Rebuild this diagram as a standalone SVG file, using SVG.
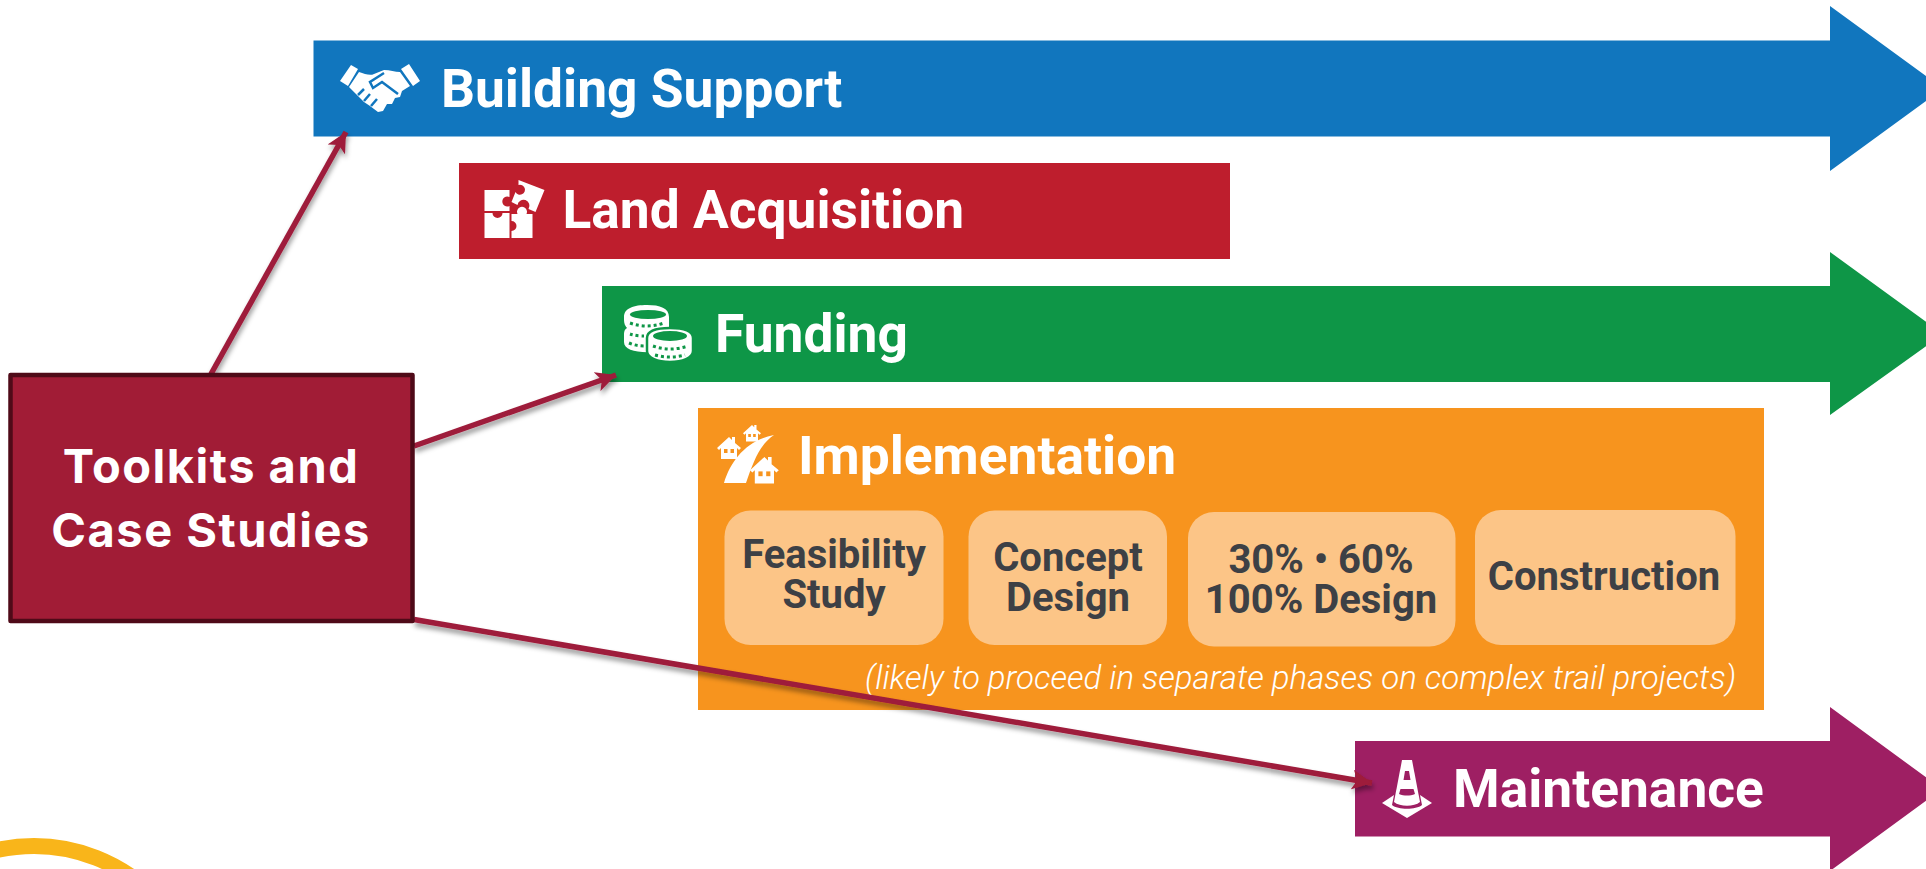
<svg xmlns="http://www.w3.org/2000/svg" width="1926" height="869" viewBox="0 0 1926 869">
<style>
.h{font-family:Roboto,"Liberation Sans",sans-serif;font-weight:700;font-size:53.300px;fill:#fff}
.s{font-family:Roboto,"Liberation Sans",sans-serif;font-weight:700;font-size:40px;fill:#3d4045;text-anchor:middle}
.c{fill:#fcc587}
.t{font-family:Inter,"Liberation Sans",sans-serif;font-weight:700;font-size:47px;letter-spacing:1.500px;fill:#fff;text-anchor:middle}
.n{font-family:Roboto,"Liberation Sans",sans-serif;font-weight:300;font-style:italic;font-size:33px;fill:#fff}
.w{fill:#fff}
.l{fill:none;stroke:#9e1b3a;stroke-width:5.500}
</style>
<defs>
<filter id="sh" x="-20%" y="-20%" width="140%" height="140%"><feDropShadow dx="1" dy="4" stdDeviation="2.500" flood-color="#000" flood-opacity="0.4"/></filter>
<marker id="ah" markerUnits="userSpaceOnUse" markerWidth="22" markerHeight="20" refX="20" refY="10" orient="auto"><path d="M0,0 L20,10 L0,20 L5,10 Z" fill="#9e1b3a"/></marker>
<g id="house"><path class="w" d="M0,11 L12,0 L15,3 L15,0 L18,0 L18,6 L24,11 L22,13 L20,11 L20,22 L4,22 L4,11 L2,13 Z"/><rect x="7" y="12" width="3.500" height="4" fill="#f7941e"/><rect x="13.500" y="12" width="3.500" height="4" fill="#f7941e"/></g>
</defs>
<circle cx="34" cy="1015" r="169" fill="none" stroke="#f9b51a" stroke-width="16"/>
<g id="building-support">
<path d="M313.500,40.500 H1830 V6 L1943,88.500 L1830,171 V136.500 H313.500 Z" fill="#1176be"/>
<g transform="translate(340,64)">
<path class="w" d="M0,17 L11,1 L18,5 L8,22 Z M61,5 L69,0 L80,17 L73,22 Z"/>
<path class="w" d="M19,8 C25,10 30,12 34,10 L44,6 C50,6 55,8 60,8 L70,22 L62,27 L60,33 L55,34 L52,40 L47,40 L43,47 L38,48 L30,42 L24,38 L16,30 L9,23 Z"/>
<path d="M44,9 L30,18 L33,24 L42,18 L58,30 M18,31 L24,25 M24,37 L30,30 M31,42 L37,35" fill="none" stroke="#1176be" stroke-width="2.500"/>
</g>
<text class="h" x="441" y="107">Building Support</text>
</g>
<g id="land-acquisition">
<rect x="459" y="163" width="771" height="96" fill="#be1e2d"/>
<g transform="translate(484.500,180)">
<path class="w" d="M0,10 H25 V17 A5,5 0 1 0 25,26 V31 H0 Z M0,33 H8 A5,5 0 1 0 18,33 H25 V58 H0 Z M27,34 H33 A5,5 0 1 1 42,34 H48 V58 H27 V51 A5,5 0 1 0 27,41 Z"/>
<path class="w" d="M34,0 L60,10 L51,32 L44,29 A6,6 0 1 0 33,25 L27,22 L31,12 A5,5 0 1 0 34,5 Z"/>
</g>
<text class="h" x="562.500" y="228">Land Acquisition</text>
</g>
<g id="funding">
<path d="M602,286 H1830 V252 L1943,334 L1830,415 V382 H602 Z" fill="#0e9647"/>
<g transform="translate(624,305)">
<path class="w" d="M0,12 C0,3 10,0 23,0 C36,0 45,3 45,12 V24 H30 V47 C12,48 0,45 0,37 V29 C0,26 1,24 3,23 C1,21 0,18 0,15 Z"/>
<path class="w" d="M23,33 C23,26 33,23 46,23 C59,23 69,26 69,33 V46 C69,53 58,57 46,57 C34,57 23,53 23,46 Z" stroke="#0e9647" stroke-width="2.500"/>
<ellipse cx="24" cy="9.500" rx="18" ry="4.500" fill="#0e9647"/>
<ellipse cx="46" cy="31" rx="17" ry="5" fill="#0e9647"/>
<path d="M6,18 Q23,24 40,18 M5,38 Q12,41 20,41 M6,29 Q12,31 20,31 M29,41 Q46,47 64,41 M31,50 Q46,54 61,50" fill="none" stroke="#0e9647" stroke-width="3" stroke-dasharray="3 3"/>
</g>
<text class="h" x="715" y="352">Funding</text>
</g>
<g id="implementation">
<rect x="698" y="408" width="1066" height="302" fill="#f7941e"/>
<g transform="translate(717,425)">
<path class="w" d="M7,58 C14,35 30,15 57,10 C42,20 36,38 29,58 Z"/>
<use href="#house" transform="translate(0,12)"/>
<use href="#house" transform="translate(26,0) scale(.75)"/>
<use href="#house" transform="translate(33,32) scale(1.200)"/>
</g>
<text class="h" x="798" y="474">Implementation</text>
<g id="feasibility-study"><rect class="c" x="724.500" y="510.500" width="219" height="134.500" rx="26"/><text class="s" x="834" y="568">Feasibility</text><text class="s" x="834" y="608">Study</text></g>
<g id="concept-design"><rect class="c" x="968.500" y="510.500" width="198.500" height="134.500" rx="26"/><text class="s" x="1068" y="571">Concept</text><text class="s" x="1068" y="611">Design</text></g>
<g id="design-stages"><rect class="c" x="1188" y="512" width="267.500" height="134.500" rx="26"/><text class="s" x="1321" y="573">30% • 60%</text><text class="s" x="1321" y="613">100% Design</text></g>
<g id="construction"><rect class="c" x="1475" y="510" width="260.500" height="135" rx="26"/><text class="s" x="1604" y="590">Construction</text></g>
<text class="n" x="865" y="689">(likely to proceed in separate phases on complex trail projects)</text>
</g>
<g id="maintenance">
<path d="M1355,741 H1830 V707 L1942,789 L1830,871 V836.500 H1355 Z" fill="#9e1f63"/>
<g transform="translate(1382,760)">
<path class="w" d="M25,58 L0,43 L12,35 L10,45 C16,50 34,50 40,45 L38,35 L50,43 Z"/>
<path class="w" d="M20,0 H30 L38,42 C32,47 18,47 12,42 Z"/>
<path d="M23,11 H27 L28.500,20 H21.500 Z M18.500,29 H31.500 L33,34 C28,36 22,36 17,34 Z" fill="#9e1f63"/>
</g>
<text class="h" x="1453" y="807">Maintenance</text>
</g>
<g id="connectors" filter="url(#sh)">
<path class="l" marker-end="url(#ah)" d="M211,374 L346,132"/>
<path class="l" marker-end="url(#ah)" d="M414,446 L616,375"/>
<path class="l" marker-end="url(#ah)" d="M414,619.500 L1372,783"/>
</g>
<g id="toolkits">
<rect x="10.500" y="375" width="402" height="246" fill="#a11c36" stroke="#4f0a18" stroke-width="4.500" stroke-linejoin="round"/>
<text class="t" x="211" y="483">Toolkits and</text>
<text class="t" x="211" y="547">Case Studies</text>
</g>
</svg>
